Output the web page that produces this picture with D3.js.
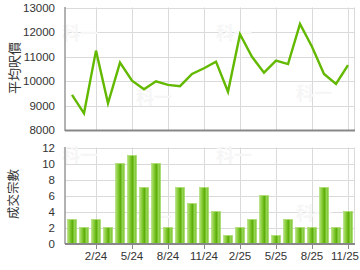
<!DOCTYPE html>
<html lang="zh-Hant">
<head>
<meta charset="utf-8">
<script src="https://cdn.jsdelivr.net/npm/d3@7"></script>
<style>
body { margin: 0; background: #fff; }
text { font-family: "Liberation Sans", Arial, sans-serif; fill: #333; }
</style>
</head>
<body>
<script>
// months 12/23 .. 11/25
var months = ["12/23","1/24","2/24","3/24","4/24","5/24","6/24","7/24","8/24","9/24","10/24","11/24",
              "12/24","1/25","2/25","3/25","4/25","5/25","6/25","7/25","8/25","9/25","10/25","11/25"];
var avgPrice = [9430, 8680, 11240, 9090, 10750, 10010, 9660, 9990, 9840, 9790, 10290, 10520,
                10790, 9560, 11910, 10990, 10340, 10830, 10690, 12330, 11400, 10290, 9880, 10650];
var deals = [3, 2, 3, 2, 10, 11, 7, 10, 2, 7, 5, 7, 4, 1, 2, 3, 6, 1, 3, 2, 2, 7, 2, 4];
var tickMonths = ["2/24","5/24","8/24","11/24","2/25","5/25","8/25","11/25"];
var priceTicks = [8000, 9000, 10000, 11000, 12000, 13000];
var dealTicks = [0, 2, 4, 6, 8, 10, 12];

var W = 360, H = 270;
var left = 65, right = 354;

var svg = d3.select("body").append("svg")
	.attr("width", W)
	.attr("height", H);

var defs = svg.append("defs");
var grad = defs.append("linearGradient").attr("id", "barGrad")
	.attr("x1", "0%").attr("x2", "100%").attr("y1", "0%").attr("y2", "0%");
grad.append("stop").attr("offset", "0%").attr("stop-color", "#b4e07c");
grad.append("stop").attr("offset", "25%").attr("stop-color", "#8ccf3e");
grad.append("stop").attr("offset", "55%").attr("stop-color", "#5cae08");
grad.append("stop").attr("offset", "80%").attr("stop-color", "#9ad65a");
grad.append("stop").attr("offset", "100%").attr("stop-color", "#6fbf1e");

var x = d3.scaleBand().domain(months).range([left + 1, right]).padding(0);
function cx(m) { return x(m) + x.bandwidth() / 2; }

var yP = d3.scaleLinear().domain([8000, 13000]).range([130, 7.5]);
var yD = d3.scaleLinear().domain([0, 12]).range([243.5, 147.5]);

// watermarks
function watermark(g, pts) {
	g.selectAll(".wm").data(pts).enter().append("text")
		.attr("x", function(d) { return d[0]; })
		.attr("y", function(d) { return d[1]; })
		.style("font-size", "18px")
		.style("font-weight", "bold")
		.style("font-family", "'Noto Sans CJK TC', sans-serif")
		.style("fill", "#f6f6f6")
		.text("科一");
}

function panel(y, ticks, fmt) {
	var g = svg.append("g");
	// horizontal grid
	g.selectAll(".hg").data(ticks).enter().append("line")
		.attr("x1", left).attr("x2", right)
		.attr("y1", function(d) { return Math.round(y(d)) + 0.5; })
		.attr("y2", function(d) { return Math.round(y(d)) + 0.5; })
		.attr("stroke", "#dadada");
	// vertical grid
	g.selectAll(".vg").data(tickMonths).enter().append("line")
		.attr("x1", function(d) { return Math.round(cx(d)) + 0.5; })
		.attr("x2", function(d) { return Math.round(cx(d)) + 0.5; })
		.attr("y1", y.range()[1]).attr("y2", y.range()[0])
		.attr("stroke", "#dadada");
	g.append("line").attr("x1", right + 0.5).attr("x2", right + 0.5)
		.attr("y1", y.range()[1]).attr("y2", y.range()[0]).attr("stroke", "#dadada");
	// tick labels
	g.selectAll(".yl").data(ticks).enter().append("text")
		.attr("x", 55)
		.attr("y", function(d) { return y(d) + 4; })
		.attr("text-anchor", "end")
		.style("font-size", "11.5px")
		.text(fmt);
	return g;
}

// ---- upper panel: average price ----
var gTop = panel(yP, priceTicks, function(d) { return d; });
watermark(gTop, [[62, 40], [136, 104], [216, 40], [296, 100]]);

gTop.append("path")
	.datum(avgPrice)
	.attr("fill", "none")
	.attr("stroke", "#63b800")
	.attr("stroke-width", 2.4)
	.attr("stroke-linejoin", "miter")
	.attr("d", d3.line()
		.x(function(d, i) { return cx(months[i]); })
		.y(function(d) { return yP(d); }));

gTop.append("line").attr("x1", left).attr("x2", left).attr("y1", 7).attr("y2", 131)
	.attr("stroke", "#999").attr("stroke-width", 1.5);
gTop.append("line").attr("x1", left).attr("x2", right + 1).attr("y1", 130.5).attr("y2", 130.5)
	.attr("stroke", "#888").attr("stroke-width", 2);

svg.append("text")
	.attr("transform", "translate(19,68) rotate(-90)")
	.attr("text-anchor", "middle")
	.style("font-size", "13px")
	.style("font-family", "'Noto Sans CJK TC', sans-serif")
	.text("平均呎價");

// ---- lower panel: number of deals ----
var gBot = panel(yD, dealTicks, function(d) { return d; });
watermark(gBot, [[62, 162], [136, 224], [216, 162], [296, 220]]);

gBot.selectAll(".bar").data(deals).enter().append("rect")
	.attr("x", function(d, i) { return cx(months[i]) - 4.5; })
	.attr("y", function(d) { return yD(d); })
	.attr("width", 9)
	.attr("height", function(d) { return yD(0) - yD(d); })
	.attr("fill", "url(#barGrad)")
	.attr("stroke", "#a6da66")
	.attr("stroke-width", 0.6);

gBot.append("line").attr("x1", left).attr("x2", left).attr("y1", 147).attr("y2", 244)
	.attr("stroke", "#999").attr("stroke-width", 1.5);
gBot.append("line").attr("x1", left).attr("x2", right + 1).attr("y1", 244).attr("y2", 244)
	.attr("stroke", "#888").attr("stroke-width", 2);

var xAxis = gBot.append("g").attr("transform", "translate(0,244)");
xAxis.selectAll(".tk").data(tickMonths).enter().append("line")
	.attr("x1", function(d) { return Math.round(cx(d)) + 0.5; })
	.attr("x2", function(d) { return Math.round(cx(d)) + 0.5; })
	.attr("y1", 0).attr("y2", 5)
	.attr("stroke", "#888");
xAxis.selectAll(".xl").data(tickMonths).enter().append("text")
	.attr("x", function(d, i) { return i === tickMonths.length - 1 ? W - 1 : cx(d); })
	.attr("y", 16)
	.attr("text-anchor", function(d, i) { return i === tickMonths.length - 1 ? "end" : "middle"; })
	.style("font-size", "11.5px")
	.text(function(d) { return d; });

svg.append("text")
	.attr("transform", "translate(18,194) rotate(-90)")
	.attr("text-anchor", "middle")
	.style("font-size", "12.5px")
	.style("font-family", "'Noto Sans CJK TC', sans-serif")
	.text("成交宗數");
</script>
</body>
</html>
